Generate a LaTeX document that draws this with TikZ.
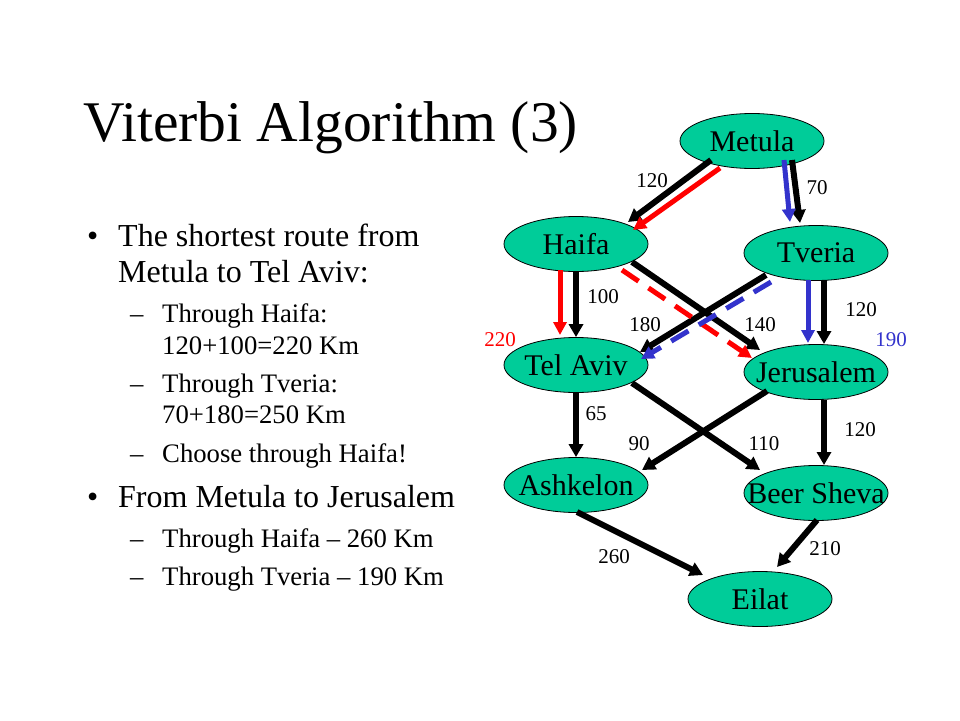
\documentclass[tikz,border=0pt]{standalone}
\usepackage{fontspec}
\setmainfont{Liberation Serif}
\usetikzlibrary{arrows.meta,shapes.geometric}
\definecolor{nodegreen}{HTML}{00CC99}
\definecolor{pathred}{HTML}{FF0000}
\definecolor{pathblue}{HTML}{3333CC}
\newcommand{\zerobox}[1]{\makebox[0pt]{#1}}
\begin{document}
\begin{tikzpicture}[x=1pt,y=-1pt,
  city/.style={ellipse,draw=black,line width=0.8pt,fill=nodegreen,minimum width=144pt,minimum height=55pt,inner sep=0pt,font=\fontsize{30}{32}\selectfont},
  road/.style={line width=6pt,draw=black,-{Triangle[length=13pt,width=14pt]}},
  redroad/.style={line width=5pt,draw=pathred,-{Triangle[length=13pt,width=13pt]}},
  blueroad/.style={line width=5pt,draw=pathblue,-{Triangle[length=13pt,width=13pt]}},
  dashedpath/.style={dash pattern=on 20pt off 12pt},
  dist/.style={font=\fontsize{21}{24}\selectfont,inner sep=0pt},
  bigline/.style={anchor=base west,inner sep=0pt,font=\fontsize{32}{36}\selectfont},
  subline/.style={anchor=base west,inner sep=0pt,font=\fontsize{26.7}{30}\selectfont}
]
\useasboundingbox (0,0) rectangle (960,720);
\fill[white] (0,0) rectangle (960,720);

% title and text
\node[anchor=base west,inner sep=0pt,font=\fontsize{57.5}{60}\selectfont] (title) at (83,141) {Viterbi Algorithm (3)};

\node[bigline] (b1) at (87,246) {\textbullet};
\node[bigline] (t1a) at (118,246) {The shortest route from};
\node[bigline] (t1b) at (118,282) {Metula to Tel Aviv:};
\node[subline] (d1) at (130,322) {–};
\node[subline] (s1a) at (162,322) {Through Haifa:};
\node[subline] (s1b) at (162,354) {120+100=220 Km};
\node[subline] (d2) at (130,392) {–};
\node[subline] (s2a) at (162,392) {Through Tveria:};
\node[subline] (s2b) at (162,423) {70+180=250 Km};
\node[subline] (d3) at (130,462) {–};
\node[subline] (s3) at (162,462) {Choose through Haifa!};
\node[bigline] (b2) at (87,507) {\textbullet};
\node[bigline] (t2) at (118,507) {From Metula to Jerusalem};
\node[subline] (d4) at (130,547) {–};
\node[subline] (s4) at (162,547) {Through Haifa – 260 Km};
\node[subline] (d5) at (130,585) {–};
\node[subline] (s5) at (162,585) {Through Tveria – 190 Km};

% cities
\node[city] (Metula) at (752,141) {\zerobox{Metula}};
\node[city] (Haifa) at (576,244) {\zerobox{Haifa}};
\node[city] (Tveria) at (816,253) {\zerobox{Tveria}};
\node[city] (TelAviv) at (576,365) {\zerobox{Tel Aviv}};
\node[city] (Jerusalem) at (816,372) {\zerobox{Jerusalem}};
\node[city] (Ashkelon) at (576,485) {\zerobox{Ashkelon}};
\node[city] (BeerSheva) at (816,493) {\zerobox{Beer Sheva}};
\node[city] (Eilat) at (760,599) {\zerobox{Eilat}};

% black roads
\draw[road] ([shift={(-41,19)}]Metula.center) -- ([shift={(52,-22)}]Haifa.center);
\draw[road] ([shift={(40,19)}]Metula.center) -- ([shift={(-16,-30)}]Tveria.center);
\draw[road] (Haifa.south) -- (TelAviv.north);
\draw[road] ([shift={(56,18)}]Haifa.center) -- ([shift={(-56,-22)}]Jerusalem.center);
\draw[road] ([shift={(-50,22)}]Tveria.center) -- ([shift={(64,-13)}]TelAviv.center);
\draw[road] ([shift={(8,27)}]Tveria.center) -- ([shift={(8,-28)}]Jerusalem.center);
\draw[road] ([shift={(56,18)}]TelAviv.center) -- ([shift={(-56,-23)}]BeerSheva.center);
\draw[road] ([shift={(-49,19)}]Jerusalem.center) -- ([shift={(66,-15)}]Ashkelon.center);
\draw[road] (TelAviv.south) -- (Ashkelon.north);
\draw[road] ([shift={(8,28)}]Jerusalem.center) -- ([shift={(8,-28)}]BeerSheva.center);
\draw[road] ([shift={(1,27)}]Ashkelon.center) -- ([shift={(-57,-24)}]Eilat.center);
\draw[road] ([shift={(1,27)}]BeerSheva.center) -- ([shift={(17,-32)}]Eilat.center);

% red path
\draw[redroad] ([shift={(-32,27)}]Metula.center) -- ([shift={(57,-14)}]Haifa.center);
\draw[redroad] ([shift={(-16,26)}]Haifa.center) -- ([shift={(-16,-30)}]TelAviv.center);
\draw[redroad,dashedpath] ([shift={(46,26)}]Haifa.center) -- ([shift={(-64,-14)}]Jerusalem.center);

% blue path
\draw[blueroad] ([shift={(32,19)}]Metula.center) -- ([shift={(-26,-31)}]Tveria.center);
\draw[blueroad] ([shift={(-8,27)}]Tveria.center) -- ([shift={(-8,-29)}]Jerusalem.center);
\draw[blueroad,dashedpath] ([shift={(-45,29)}]Tveria.center) -- ([shift={(65,-6)}]TelAviv.center);

% distances
\node[dist] (l120a) at (652,181) {120};
\node[dist] (l70) at (817,188) {70};
\node[dist] (l100) at (603,297) {100};
\node[dist] (l180) at (645,325) {180};
\node[dist] (l140) at (760,325) {140};
\node[dist] (l120b) at (861,310) {120};
\node[dist,text=pathred] (l220) at (500,340) {220};
\node[dist,text=pathblue] (l190) at (891,340) {190};
\node[dist] (l65) at (596,414) {65};
\node[dist] (l90) at (639,444) {90};
\node[dist] (l110) at (764,444) {110};
\node[dist] (l120c) at (860,430) {120};
\node[dist] (l260) at (614,557) {260};
\node[dist] (l210) at (825,549) {210};
\end{tikzpicture}
\end{document}
